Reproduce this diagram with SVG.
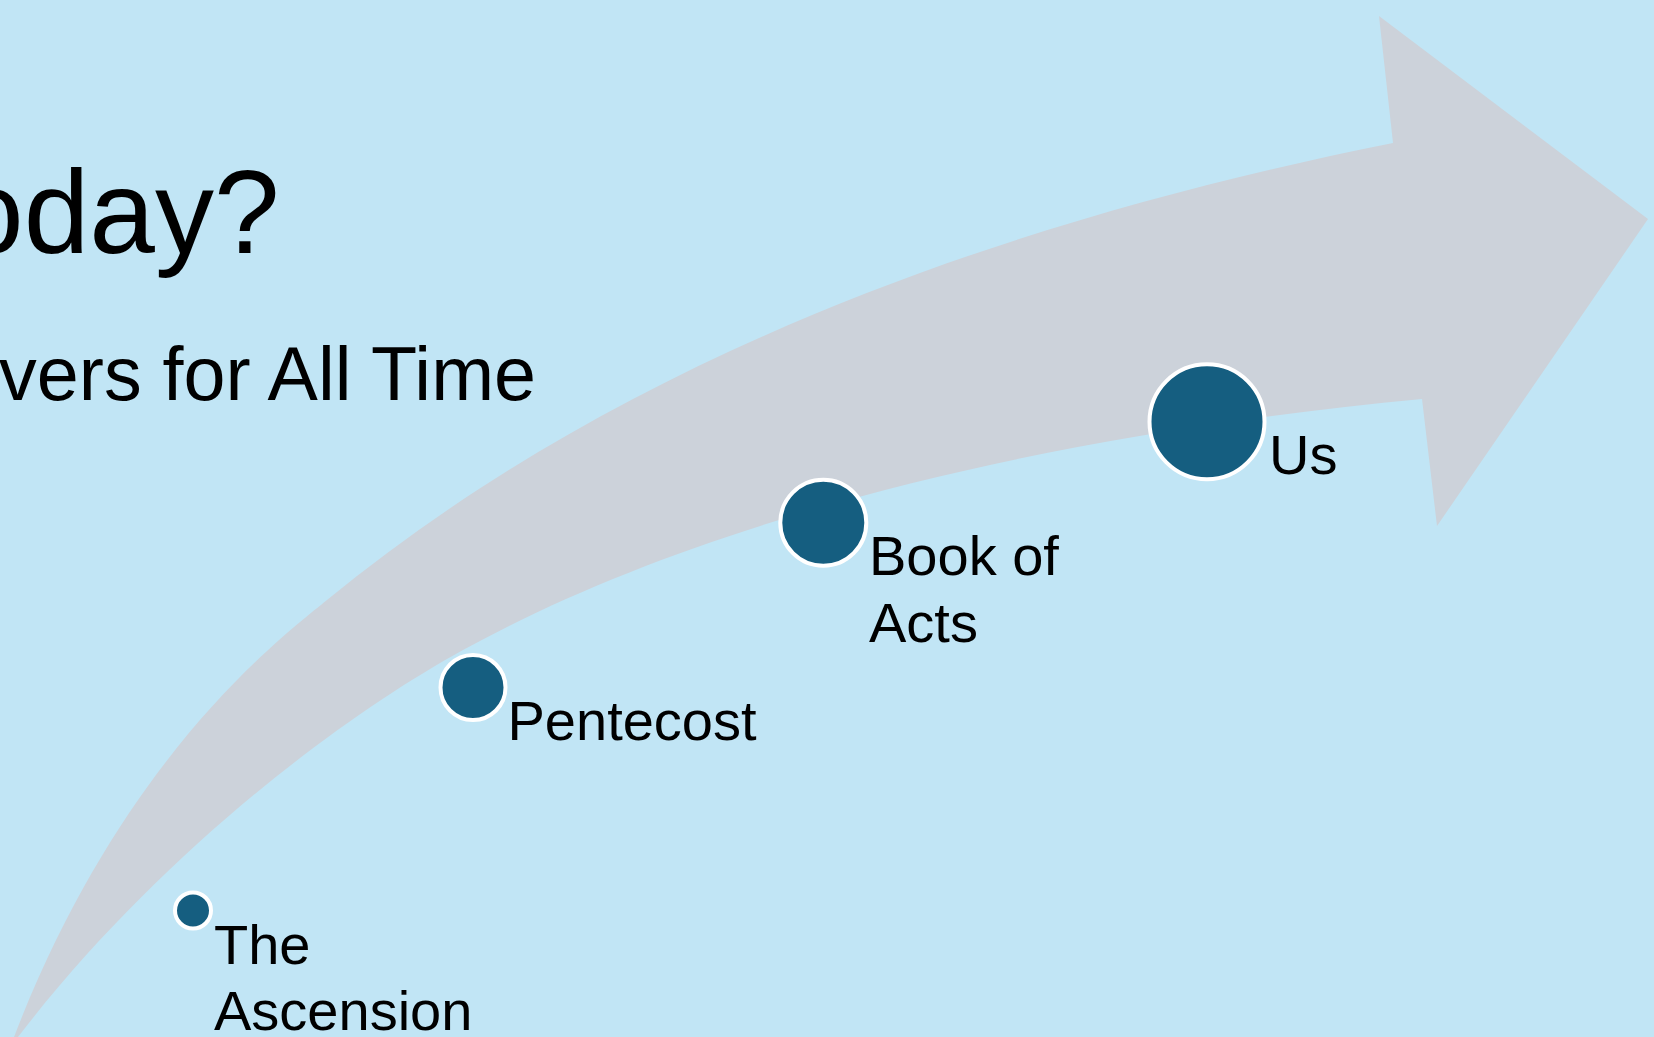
<svg xmlns="http://www.w3.org/2000/svg" width="1654" height="1037" viewBox="0 0 1654 1037">
<style>
.lbl{font-family:"Liberation Sans",Arial,sans-serif;font-size:56px;fill:#000}
.title{font-family:"Liberation Sans",Arial,sans-serif;fill:#000}
.dot{fill:#155E80;stroke:#FFFFFF;stroke-width:4}
</style>
<rect x="0" y="0" width="1654" height="1037" fill="#C1E5F5"/>
<g id="arrow">
<path fill="#CCD2DA" d="M 14 1037 C 121.7 757.1 280.6 638 327 600 C 620.7 359.1 1000.6 221.4 1393 143 L 1379 16 L 1648 219 L 1437 526 L 1422 399 C 1023.8 436.8 690.8 524.7 463 650 C 331.6 722.3 152.2 862.5 18 1037 L 16 1045 Z"/>
</g>
<g id="title">
<text class="title" x="-42" y="253" font-size="118">oday?</text>
<text class="title" x="-1" y="400" font-size="75.5">vers for All Time</text>
</g>
<g id="connectors"></g>
<g id="node-ascension">
<circle class="dot" cx="193" cy="910.5" r="18" stroke-width="3.5"/>
<text class="lbl" x="214" y="964">The</text>
<text class="lbl" x="214" y="1030">Ascension</text>
</g>
<g id="node-pentecost">
<circle class="dot" cx="473" cy="687.5" r="32.5"/>
<text class="lbl" x="507.5" y="740">Pentecost</text>
</g>
<g id="node-acts">
<circle class="dot" cx="823.3" cy="522.8" r="43"/>
<text class="lbl" x="869" y="575">Book of</text>
<text class="lbl" x="869" y="641.7">Acts</text>
</g>
<g id="node-us">
<circle class="dot" cx="1207" cy="421.7" r="57.5"/>
<text class="lbl" x="1269" y="474">Us</text>
</g>
</svg>
